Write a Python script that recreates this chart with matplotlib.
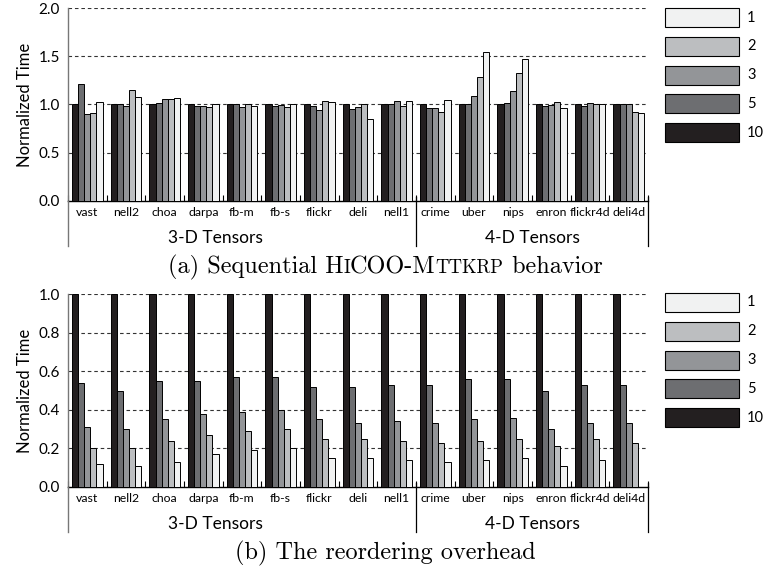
import numpy as np
import matplotlib
matplotlib.use("Agg")
import matplotlib.pyplot as plt
from matplotlib.lines import Line2D
from matplotlib.patches import Rectangle

W, H = 764, 571

tensors_3d = ["vast", "nell2", "choa", "darpa", "fb-m", "fb-s", "flickr", "deli", "nell1"]
tensors_4d = ["crime", "uber", "nips", "enron", "flickr4d", "deli4d"]
tensors = tensors_3d + tensors_4d

block_sizes = [10, 5, 3, 2, 1]
colors = {10: "#231f20", 5: "#6d6e71", 3: "#939598", 2: "#bcbec0", 1: "#f1f2f2"}

# (a) sequential HiCOO-MTTKRP, normalized to block size 10
seq_10 = [1.00, 1.00, 1.00, 1.00, 1.00, 1.00, 1.00, 1.00, 1.00, 1.00, 1.00, 1.00, 1.00, 1.00, 1.00]
seq_5 = [1.21, 1.01, 1.02, 0.98, 1.00, 0.98, 0.98, 0.95, 1.01, 0.96, 1.01, 1.02, 0.98, 0.98, 1.00]
seq_3 = [0.90, 0.98, 1.06, 0.98, 0.97, 0.99, 0.94, 0.97, 1.04, 0.96, 1.09, 1.14, 0.99, 1.02, 1.01]
seq_2 = [0.91, 1.15, 1.06, 0.97, 1.01, 0.97, 1.04, 1.00, 0.98, 0.92, 1.29, 1.33, 1.03, 1.01, 0.92]
seq_1 = [1.03, 1.08, 1.07, 1.00, 0.98, 1.00, 1.03, 0.85, 1.04, 1.05, 1.54, 1.47, 0.96, 1.01, 0.91]

# (b) reordering overhead
reo_10 = [1.00, 1.00, 1.00, 1.00, 1.00, 1.00, 1.00, 1.00, 1.00, 1.00, 1.00, 1.00, 1.00, 1.00, 1.00]
reo_5 = [0.54, 0.50, 0.55, 0.55, 0.57, 0.57, 0.52, 0.52, 0.53, 0.53, 0.56, 0.56, 0.50, 0.53, 0.53]
reo_3 = [0.31, 0.30, 0.35, 0.38, 0.39, 0.40, 0.35, 0.33, 0.34, 0.33, 0.35, 0.36, 0.30, 0.33, 0.33]
reo_2 = [0.20, 0.20, 0.24, 0.27, 0.29, 0.30, 0.25, 0.25, 0.24, 0.23, 0.24, 0.25, 0.21, 0.25, 0.23]
reo_1 = [0.12, 0.11, 0.13, 0.17, 0.19, 0.20, 0.15, 0.15, 0.14, 0.13, 0.14, 0.15, 0.11, 0.14, np.nan]

SANS = ["Lato", "DejaVu Sans"]
SERIF = ["cmr10", "DejaVu Serif"]
plt.rcParams["font.family"] = SANS


def fx(x):
    return x / W


def fy(y):
    return 1 - y / H


def draw_panel(fig, y_zero, y_top, series, ymax, yticks, legend_top, caption_y, caption_parts):
    ax = fig.add_axes([fx(68), fy(y_zero), fx(648) - fx(68), fy(y_top) - fy(y_zero)])
    x = np.arange(len(tensors))
    bw = 0.158
    for i, bs in enumerate(block_sizes):
        ax.bar(x + (i - 2) * bw, series[bs], width=bw, color=colors[bs],
               edgecolor="black", linewidth=0.7, zorder=3)
    ax.set_xlim(-0.5, len(tensors) - 0.5)
    ax.set_ylim(0, ymax)
    ax.set_yticks(yticks)
    ax.set_yticklabels([f"{t:.1f}" for t in yticks], fontsize=11)
    for t in yticks[1:]:
        ax.axhline(t, color="#333333", lw=0.8, dashes=(3.2, 2.6), zorder=1)
    ax.set_xticks(x)
    ax.set_xticklabels(tensors, fontsize=8.8)
    ax.set_xticks(np.arange(len(tensors) + 1) - 0.5, minor=True)
    ax.tick_params(axis="x", which="major", length=0, pad=4)
    ax.tick_params(axis="x", which="minor", direction="in", length=4, width=0.8)
    ax.tick_params(axis="y", length=0, pad=6)
    ax.set_ylabel("Normalized Time", fontsize=12, labelpad=4)
    for s in ["top", "right"]:
        ax.spines[s].set_visible(False)
    ax.spines["left"].set_color("#777777")
    ax.spines["left"].set_linewidth(1.0)
    ax.spines["bottom"].set_linewidth(1.0)

    # separators below the axis
    y_sep = y_zero + 45
    fig.add_artist(Line2D([fx(68), fx(68)], [fy(y_zero), fy(y_sep)], color="#777777", lw=1.0))
    for xs in [416, 648]:
        fig.add_artist(Line2D([fx(xs), fx(xs)], [fy(y_zero - 4), fy(y_sep)], color="black", lw=0.9))
    fig.text(fx(215), fy(y_zero + 37), "3-D Tensors", fontsize=12.5, ha="center", va="center")
    fig.text(fx(532), fy(y_zero + 37), "4-D Tensors", fontsize=12.5, ha="center", va="center")

    # legend boxes
    for k, bs in enumerate([1, 2, 3, 5, 10]):
        top = legend_top + k * 28.8
        fig.add_artist(Rectangle((fx(665), fy(top + 19)), fx(739) - fx(665), fy(top) - fy(top + 19),
                                 transform=fig.transFigure, facecolor=colors[bs],
                                 edgecolor="black", lw=0.8))
        fig.text(fx(747), fy(top + 9.5), str(bs), fontsize=10.5, ha="left", va="center")

    # caption with fake small caps
    renderer = fig.canvas.get_renderer()
    texts = []
    for s, size in caption_parts:
        t = fig.text(0, fy(caption_y), s, fontsize=size, family=SERIF, ha="left", va="baseline")
        texts.append(t)
    widths = [t.get_window_extent(renderer).width for t in texts]
    x0 = 385 - sum(widths) / 2
    for t, w in zip(texts, widths):
        t.set_x(fx(x0))
        x0 += w
    return ax


fig = plt.figure(figsize=(W / 100, H / 100), dpi=100)

seq = {10: seq_10, 5: seq_5, 3: seq_3, 2: seq_2, 1: seq_1}
reo = {10: reo_10, 5: reo_5, 3: reo_3, 2: reo_2, 1: reo_1}

big, small = 17.5, 13.5
draw_panel(fig, 201, 8, seq, 2.0, [0.0, 0.5, 1.0, 1.5, 2.0], 8, 273,
           [("(a) Sequential H", big), ("I", small), ("COO-M", big), ("TTKRP", small),
            ("\u00a0behavior", big)])
draw_panel(fig, 487, 294, reo, 1.0, [0.0, 0.2, 0.4, 0.6, 0.8, 1.0], 293, 559,
           [("(b) The reordering overhead", big)])

fig.savefig("out.png", dpi=100)
